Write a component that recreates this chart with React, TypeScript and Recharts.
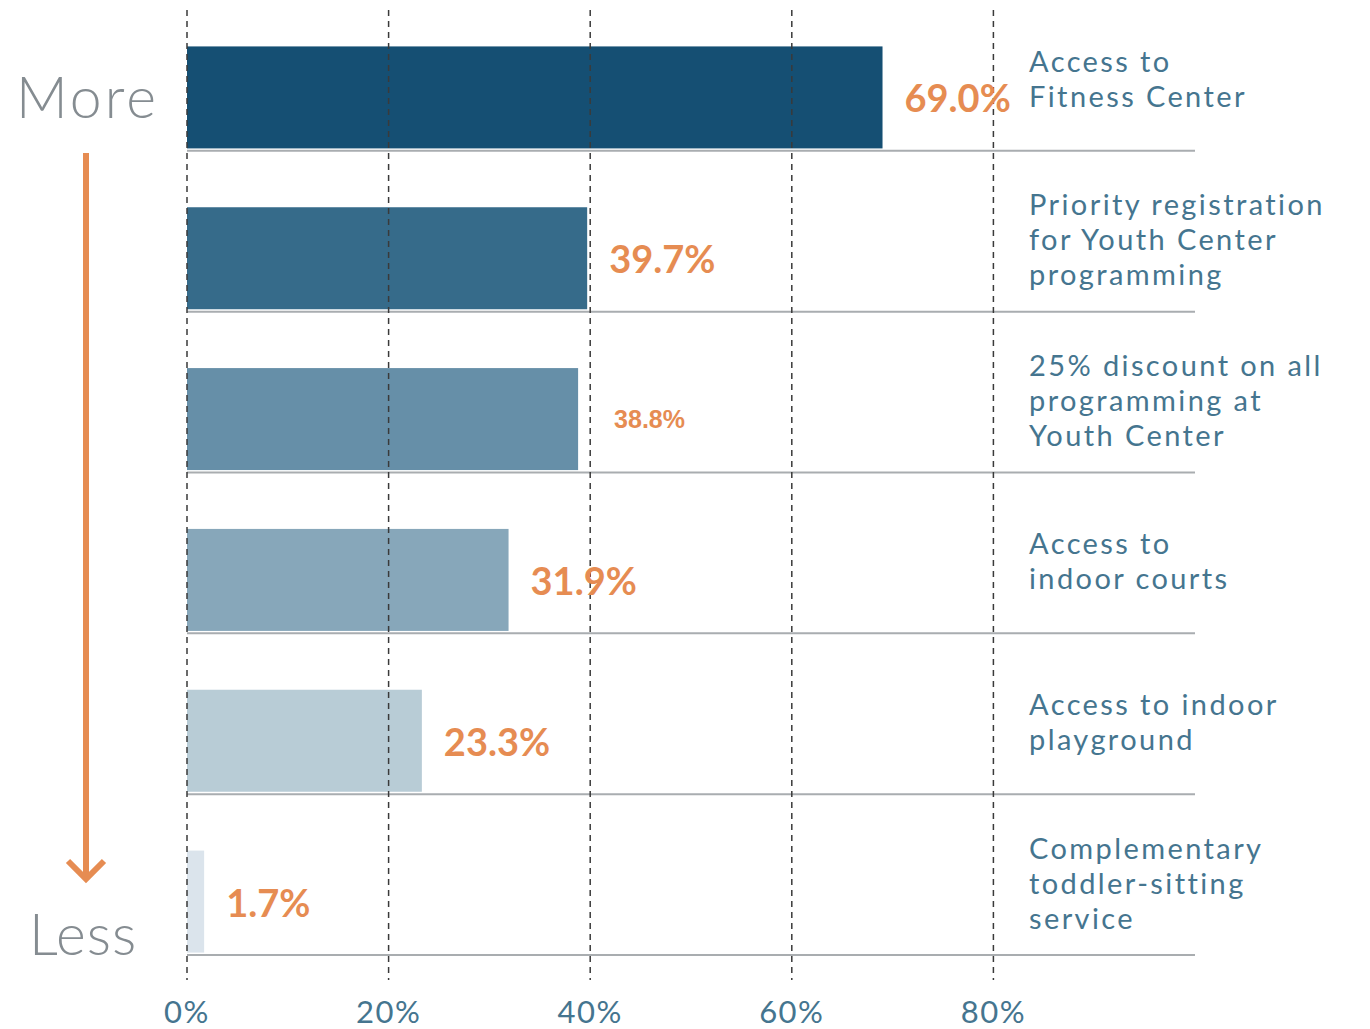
import { BarChart, Bar, XAxis, YAxis, CartesianGrid, ReferenceLine, LabelList, Cell } from 'recharts';

const categories = [
    'Access to\nFitness Center',
    'Priority registration\nfor Youth Center\nprogramming',
    '25% discount on all\nprogramming at\nYouth Center',
    'Access to\nindoor courts',
    'Access to indoor\nplayground',
    'Complementary\ntoddler-sitting\nservice',
];
const values = [69.0, 39.7, 38.8, 31.9, 23.3, 1.7];
const xTicks = [0, 20, 40, 60, 80];

const barColors = ['#154f73', '#366b8a', '#668fa8', '#87a7ba', '#b8ccd6', '#dbe4ec'];
const ORANGE = '#e68c52';
const BLUE_TEXT = '#45758f';
const FONT = 'Lato, "Open Sans", sans-serif';

const data = categories.map((name, i) => ({ name, value: values[i] }));

// chart geometry
const WIDTH = 1370;
const HEIGHT = 1039;
const X_AXIS_H = 74;
const MARGIN = { top: 0, right: 0, left: 187, bottom: 0 };
const BAR_SIZE = 102;
const BAND = (HEIGHT - MARGIN.top - MARGIN.bottom - X_AXIS_H) / categories.length;
// bars sit at the bottom of their band, just above the separator
const SHIFT = (BAND - BAR_SIZE) / 2 - 2;

const ShiftedBar = (props: any) => {
    const { x, y, width, height, fill } = props;
    return <rect x={x} y={y + SHIFT} width={width} height={height} fill={fill} />;
};

const ValueLabel = (props: any) => {
    const { x, y, width, height, value, index } = props;
    const small = index === 2;
    return (
        <text
            x={x + width + (small ? 36 : 22)}
            y={y + SHIFT + height / 2}
            dominantBaseline="central"
            fill={ORANGE}
            fontFamily={small ? '"Liberation Sans", Arial, sans-serif' : FONT}
            fontWeight={700}
            fontSize={small ? 25 : 38}
        >
            {Number(value).toFixed(1)}%
        </text>
    );
};

const CategoryTick = (props: any) => {
    const { x, y, payload } = props;
    const lines = String(payload.value).split('\n');
    const mid = (lines.length - 1) / 2;
    return (
        <g>
            {lines.map((line, i) => (
                <text
                    key={i}
                    x={x - 166}
                    y={y + 19 + (i - mid) * 35}
                    fill={BLUE_TEXT}
                    fontFamily={FONT}
                    fontSize={29}
                    letterSpacing={2.4}
                >
                    {line}
                </text>
            ))}
        </g>
    );
};

const DashedLine = (props: any) => {
    const { x1, x2, y1, y2 } = props;
    const top = Math.min(y1, y2);
    const bottom = Math.max(y1, y2);
    return (
        <line
            x1={x1}
            x2={x2}
            y1={top + 20}
            y2={bottom + 25}
            stroke="#3a3a3a"
            strokeWidth={1.5}
            strokeDasharray="6 5"
        />
    );
};

// separators at the bottom edge of each category band
const separatorLines = ({ offset }: any) =>
    categories.map((_, i) => offset.top + (offset.height * (i + 1)) / categories.length);

export default function App() {
    return (
        <div style={{ position: 'absolute', left: 0, top: 0, width: WIDTH, height: 1029, overflow: 'hidden', background: '#fff' }}>
            <div style={{ position: 'absolute', left: 0, top: -10 }}>
                <BarChart width={WIDTH} height={HEIGHT} data={data} layout="vertical" margin={MARGIN}>
                    <CartesianGrid
                        vertical={false}
                        stroke="#a9adb0"
                        strokeWidth={2}
                        horizontalCoordinatesGenerator={separatorLines}
                    />
                    <XAxis
                        type="number"
                        domain={[0, 100]}
                        ticks={xTicks}
                        tickFormatter={(v) => `${v}%`}
                        axisLine={false}
                        tickLine={false}
                        tickSize={0}
                        tickMargin={46}
                        height={X_AXIS_H}
                        tick={{ fill: BLUE_TEXT, fontSize: 31, fontFamily: FONT, letterSpacing: 1.5 }}
                    />
                    <YAxis
                        type="category"
                        dataKey="name"
                        orientation="right"
                        width={175}
                        axisLine={false}
                        tickLine={false}
                        tickSize={0}
                        tickMargin={0}
                        interval={0}
                        tick={<CategoryTick />}
                    />
                    <Bar dataKey="value" barSize={BAR_SIZE} shape={<ShiftedBar />} isAnimationActive={false}>
                        {data.map((_, i) => (
                            <Cell key={i} fill={barColors[i]} />
                        ))}
                        <LabelList dataKey="value" content={<ValueLabel />} />
                    </Bar>
                    {xTicks.map((t) => (
                        <ReferenceLine key={t} x={t} shape={<DashedLine />} />
                    ))}
                </BarChart>
            </div>
            <svg width={180} height={1029} style={{ position: 'absolute', left: 0, top: 0 }}>
                <text x={16} y={118} fill="#858c91" fontFamily={FONT} fontWeight={300} fontSize={57} letterSpacing={3}>
                    More
                </text>
                <text x={29} y={955} fill="#858c91" fontFamily={FONT} fontWeight={300} fontSize={57} letterSpacing={1}>
                    Less
                </text>
                <line x1={86} y1={153} x2={86} y2={878} stroke={ORANGE} strokeWidth={6} />
                <polyline points="68,861 86,879 104,861" fill="none" stroke={ORANGE} strokeWidth={6} />
            </svg>
        </div>
    );
}
